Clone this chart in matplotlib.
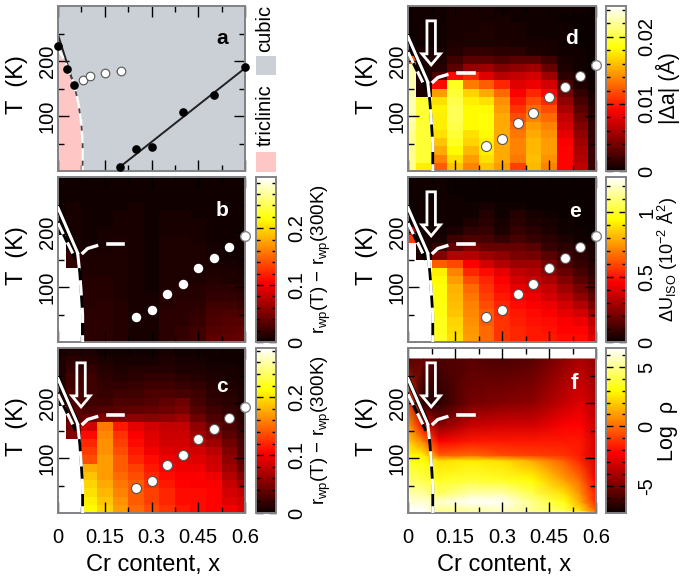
import numpy as np
import matplotlib
matplotlib.use("Agg")
import matplotlib.pyplot as plt

plt.rcParams["font.family"] = ["Liberation Sans", "DejaVu Sans"]
plt.rcParams["mathtext.fontset"] = "custom"
plt.rcParams["mathtext.rm"] = "Liberation Sans"
plt.rcParams["mathtext.default"] = "regular"

W, H = 683, 582

# map cells: columns are x = 0, 0.05 ... 0.6, rows are 15 K wide, listed from the top row down
# numbers are percent of the colour scale
x_centers = [0, 0.05, 0.1, 0.15, 0.2, 0.25, 0.3, 0.35, 0.4, 0.45, 0.5, 0.55, 0.6]
T_edges = [0, 15, 30, 45, 60, 75, 90, 105, 120, 135, 150, 165, 180, 195, 210, 225, 240, 255, 270, 285, 300]

map_b = [
    [1, 1, 1, 1, 1, 1, 1, 1, 1, 1, 1, 1, 1],
    [1, 1, 1, 1, 1, 1, 1, 1, 1, 1, 1, 1, 1],
    [1, 1, 1, 1, 1, 1, 1, 1, 1, 1, 1, 1, 1],
    [1, 2, 1, 1, 1, 2, 1, 1, 1, 1, 1, 1, 1],
    [1, 2, 1, 1, 2, 2, 1, 2, 2, 1, 1, 1, 1],
    [1, 2, 1, 1, 2, 2, 1, 2, 2, 2, 1, 1, 1],
    [1, 2, 1, 2, 2, 2, 1, 2, 2, 2, 1, 1, 1],
    [100, 2, 1, 2, 3, 2, 1, 3, 3, 2, 1, 1, 1],
    [100, 2, 2, 2, 3, 2, 1, 3, 3, 3, 2, 1, 1],
    [100, 6, 3, 3, 3, 2, 1, 3, 3, 3, 2, 1, 1],
    [100, 6, 3, 3, 3, 2, 1, 3, 3, 3, 2, 2, 1],
    [100, 100, 3, 3, 3, 2, 1, 3, 3, 3, 3, 3, 2],
    [100, 100, 4, 4, 3, 2, 1, 3, 3, 3, 4, 3, 3],
    [100, 100, 4, 4, 3, 2, 1, 3, 4, 4, 5, 5, 4],
    [100, 100, 4, 4, 3, 2, 2, 4, 4, 4, 6, 6, 5],
    [100, 100, 4, 5, 4, 2, 2, 4, 5, 5, 8, 8, 7],
    [100, 100, 5, 5, 4, 2, 2, 5, 5, 6, 9, 10, 9],
    [100, 100, 5, 5, 4, 2, 2, 5, 5, 7, 10, 11, 11],
    [100, 100, 5, 5, 4, 2, 2, 5, 6, 8, 11, 12, 13],
    [100, 100, 5, 5, 4, 2, 2, 5, 6, 8, 12, 13, 14],
]

map_c = [
    [2, 3, 3, 1, 1, 1, 1, 2, 1, 1, 1, 1, 1],
    [3, 5, 4, 3, 2, 2, 2, 3, 2, 2, 1, 1, 1],
    [3, 6, 6, 4, 3, 4, 4, 4, 3, 3, 2, 2, 1],
    [4, 8, 8, 5, 4, 5, 6, 6, 5, 4, 3, 2, 2],
    [4, 8, 8, 6, 6, 7, 8, 8, 7, 6, 4, 3, 2],
    [4, 10, 8, 7, 8, 8, 10, 10, 9, 8, 5, 4, 3],
    [4, 10, 8, 8, 10, 10, 11, 13, 15, 9, 6, 5, 3],
    [100, 12, 10, 11, 12, 13, 14, 15, 17, 11, 8, 6, 4],
    [100, 12, 14, 18, 19, 20, 19, 20, 22, 15, 10, 8, 5],
    [100, 16, 30, 55, 40, 33, 30, 28, 28, 20, 14, 10, 6],
    [100, 18, 38, 57, 44, 36, 32, 29, 29, 23, 18, 12, 8],
    [100, 100, 42, 58, 46, 38, 33, 30, 30, 26, 22, 15, 9],
    [100, 100, 45, 58, 48, 40, 35, 32, 31, 30, 26, 18, 10],
    [100, 100, 48, 60, 50, 42, 38, 34, 32, 32, 29, 20, 12],
    [100, 100, 62, 60, 50, 46, 40, 36, 34, 34, 30, 22, 14],
    [100, 100, 66, 60, 52, 48, 42, 38, 36, 36, 34, 25, 18],
    [100, 100, 68, 62, 54, 50, 44, 40, 37, 36, 36, 28, 22],
    [100, 100, 70, 64, 56, 50, 46, 42, 38, 38, 37, 30, 27],
    [100, 100, 72, 66, 58, 50, 46, 42, 38, 38, 37, 32, 30],
    [100, 100, 74, 68, 60, 52, 48, 44, 40, 38, 37, 35, 32],
]

map_d = [
    [1, 1, 1, 2, 2, 2, 1, 1, 1, 1, 1, 1, 0],
    [1, 1, 1, 2, 2, 2, 2, 1, 1, 1, 0, 0, 0],
    [1, 1, 1, 2, 2, 3, 2, 2, 1, 1, 1, 0, 0],
    [1, 1, 1, 2, 3, 3, 2, 2, 1, 1, 1, 0, 0],
    [1, 1, 1, 3, 3, 3, 3, 2, 2, 2, 1, 0, 0],
    [2, 3, 2, 4, 6, 6, 5, 5, 3, 2, 1, 1, 0],
    [50, 3, 3, 8, 12, 12, 10, 12, 12, 8, 2, 1, 0],
    [92, 3, 4, 12, 20, 22, 18, 20, 22, 14, 3, 1, 0],
    [92, 3, 10, 38, 42, 32, 26, 28, 30, 22, 5, 2, 0],
    [92, 3, 38, 78, 55, 50, 42, 32, 34, 30, 10, 3, 1],
    [92, 3, 60, 80, 68, 62, 52, 36, 42, 37, 16, 6, 2],
    [92, 80, 70, 82, 72, 70, 58, 40, 48, 42, 20, 9, 3],
    [92, 80, 73, 83, 74, 74, 60, 44, 52, 48, 24, 12, 4],
    [92, 80, 72, 83, 74, 75, 62, 48, 56, 52, 28, 15, 5],
    [90, 80, 72, 82, 74, 75, 62, 52, 60, 56, 30, 18, 6],
    [88, 80, 70, 80, 70, 74, 62, 54, 62, 58, 33, 20, 6],
    [88, 80, 66, 78, 68, 72, 62, 56, 64, 60, 36, 22, 7],
    [88, 80, 62, 74, 64, 72, 62, 56, 64, 60, 37, 24, 7],
    [88, 80, 56, 70, 60, 70, 62, 54, 65, 58, 37, 25, 7],
    [88, 72, 50, 66, 56, 66, 60, 46, 64, 56, 37, 27, 7],
]

map_e = [
    [1, 1, 1, 0, 0, 0, 0, 0, 0, 0, 0, 0, 0],
    [1, 1, 1, 0, 0, 0, 0, 0, 0, 0, 0, 0, 0],
    [1, 1, 1, 1, 0, 0, 0, 0, 0, 0, 0, 0, 0],
    [1, 1, 1, 1, 1, 2, 1, 1, 0, 0, 0, 0, 0],
    [1, 1, 1, 1, 1, 4, 1, 4, 2, 1, 0, 0, 0],
    [1, 1, 1, 1, 3, 5, 2, 5, 3, 2, 1, 0, 0],
    [30, 1, 1, 3, 6, 7, 3, 7, 5, 3, 1, 1, 0],
    [45, 2, 2, 8, 10, 9, 7, 9, 7, 5, 3, 1, 1],
    [100, 3, 6, 14, 17, 14, 14, 14, 12, 7, 5, 3, 2],
    [100, 3, 18, 25, 25, 22, 20, 17, 16, 12, 8, 5, 3],
    [100, 100, 50, 47, 36, 30, 25, 22, 22, 16, 10, 7, 4],
    [100, 100, 72, 56, 42, 38, 33, 27, 25, 20, 14, 9, 5],
    [100, 100, 74, 60, 48, 42, 36, 30, 28, 24, 18, 12, 7],
    [100, 100, 75, 63, 52, 44, 38, 33, 31, 28, 22, 16, 10],
    [100, 100, 75, 64, 54, 46, 40, 36, 34, 30, 26, 20, 13],
    [100, 100, 76, 65, 56, 48, 42, 38, 36, 34, 30, 25, 17],
    [100, 100, 76, 66, 57, 50, 43, 40, 38, 36, 33, 30, 22],
    [100, 100, 77, 68, 58, 50, 44, 41, 39, 38, 36, 34, 27],
    [100, 100, 77, 69, 59, 52, 44, 42, 40, 39, 37, 37, 30],
    [100, 100, 78, 70, 60, 52, 44, 42, 40, 40, 38, 38, 32],
]

# panel f is a smooth map on a coarse grid, rows listed from 280 K down
x_f = [0, 0.05, 0.1, 0.2, 0.3, 0.4, 0.5, 0.55, 0.6]
T_f = [0, 5, 20, 35, 60, 95, 105, 130, 160, 200, 280]
map_f = [
    [12, 14, 10, 12, 10, 12, 20, 24, 20],
    [45, 3, 5, 16, 18, 20, 28, 32, 25],
    [60, 35, 18, 28, 30, 30, 36, 37, 28],
    [68, 55, 36, 40, 40, 40, 40, 40, 30],
    [75, 72, 50, 52, 48, 46, 44, 40, 30],
    [78, 75, 70, 72, 70, 62, 50, 42, 30],
    [85, 82, 78, 80, 78, 74, 60, 52, 35],
    [92, 90, 84, 92, 92, 82, 70, 58, 40],
    [96, 95, 95, 100, 99, 88, 76, 62, 42],
    [100, 100, 88, 90, 94, 88, 82, 70, 50],
    [100, 100, 92, 92, 94, 92, 90, 86, 60],
]

# points
a_black_x = [0, 0.03, 0.05]
a_black_T = [227, 185, 157]
a_tc_x = [0.2, 0.25, 0.3, 0.4, 0.5, 0.6]
a_tc_T = [8, 40, 43, 107, 138, 190]
a_fit_x = [0.2, 0.6]
a_fit_T = [8, 187]
a_open_x = [0.081, 0.102, 0.152, 0.203]
a_open_T = [165, 173, 179, 182]
a_line_x = [0, 0.05]
a_line_T = [248, 158]

tc_x = [0.25, 0.3, 0.35, 0.4, 0.45, 0.5, 0.55, 0.6]
tc_T = [46, 59, 87, 105, 135, 153, 173, 193]

# phase boundaries
upper_x = [0, 0.063]
upper_T = [244, 162]
lower_x = [0, 0.055]
lower_T = [216, 152]
edge_x = [0.063, 0.07, 0.075, 0.079, 0.079]
edge_T = [162, 125, 85, 50, 0]
pink_x = [0, 0.025, 0.05, 0.065, 0.075, 0.079, 0.079]
pink_T = [225, 195, 160, 125, 85, 50, 0]
curve_x = [0.08, 0.095, 0.124]
curve_T = [162, 170, 175]
dash_x = [0.16, 0.21]
dash_T = [179, 179]

GRAY = "#808285"
CUBIC = "#CBCFD6"
PINK = "#FFC6C6"


def rect(x0, y0, x1, y1):
    # pixel box to figure fractions
    return [x0 / W, 1 - y1 / H, (x1 - x0) / W, (y1 - y0) / H]


def style_axes(ax, top_col="white", bottom_col="black", right_col="white", left_col="black"):
    ax.set_xlim(0, 0.6)
    ax.set_ylim(0, 300)
    ax.set_xticks([0, 0.15, 0.3, 0.45, 0.6])
    ax.set_xticks([0.075, 0.225, 0.375, 0.525], minor=True)
    ax.set_yticks([100, 200])
    ax.set_yticks([50, 150, 250], minor=True)
    ax.tick_params(which="major", direction="in", top=True, right=True, length=8, width=1)
    ax.tick_params(which="minor", direction="in", top=True, right=True, length=4, width=1)
    for axis_ticks in (ax.xaxis.get_major_ticks(), ax.xaxis.get_minor_ticks()):
        for t in axis_ticks:
            t.tick1line.set_color(bottom_col)
            t.tick2line.set_color(top_col)
    for axis_ticks in (ax.yaxis.get_major_ticks(), ax.yaxis.get_minor_ticks()):
        for t in axis_ticks:
            t.tick1line.set_color(left_col)
            t.tick2line.set_color(right_col)
    for s in ax.spines.values():
        s.set_color(GRAY)
        s.set_linewidth(1.4)
    ax.set_xticklabels([])
    for lab in ax.get_yticklabels():
        lab.set_rotation(90)
        lab.set_va("center")
        lab.set_fontsize(14.5)
    ax.tick_params(axis="y", which="major", pad=1)


def draw_lines(ax):
    ax.plot(upper_x, upper_T, color="black", lw=3.4, zorder=3)
    ax.plot(upper_x, upper_T, color="white", lw=2.2, zorder=4)
    ax.plot(lower_x, lower_T, color="black", lw=2.2, zorder=3)
    ax.plot(lower_x, lower_T, color="white", lw=2.2, dashes=(4, 3), zorder=4)
    ax.plot(edge_x, edge_T, color="black", lw=2, zorder=3)
    ax.plot(edge_x, edge_T, color="white", lw=2.2, dashes=(5, 4), zorder=4)
    ax.plot(curve_x, curve_T, color="white", lw=2.4, zorder=4)
    ax.plot(dash_x, dash_T, color="white", lw=2.6, zorder=4)


def draw_arrow(ax):
    ax.arrow(0.074, 273, 0, -80, width=0.027, head_width=0.059, head_length=20,
             length_includes_head=True, fc="none", ec="white", lw=2, zorder=5)


def add_cbar(mesh, box, ticks, labels, minor, label, lab_x, lab_size=15.5):
    cax = fig.add_axes(rect(*box))
    cb = fig.colorbar(mesh, cax=cax)
    cb.set_ticks(ticks)
    cb.set_ticklabels(labels)
    cb.ax.set_yticks(minor, minor=True)
    cb.ax.tick_params(which="major", direction="in", left=True, right=True, length=5, width=1, pad=8)
    cb.ax.tick_params(which="minor", direction="in", left=True, right=True, length=3, width=1)
    cb.outline.set_edgecolor(GRAY)
    cb.outline.set_linewidth(1.4)
    for t in cb.ax.get_yticklabels():
        t.set_rotation(90)
        t.set_va("center")
        t.set_fontsize(14.5)
    fig.text(lab_x / W, 1 - (box[1] + box[3]) / 2 / H, label, rotation=90, ha="center", va="center", fontsize=lab_size)


fig = plt.figure(figsize=(W / 100, H / 100), dpi=100)

left = (58, 245)
right = (408, 596)
rows = [(6, 171), (177, 342), (348, 513)]

# panel a: phase diagram
ax_a = fig.add_axes(rect(left[0], rows[0][0], left[1], rows[0][1]))
ax_a.set_facecolor(CUBIC)
ax_a.fill_betweenx(pink_T, 0, pink_x, color=PINK, lw=0)
ax_a.plot(a_line_x, a_line_T, color="#222222", lw=1.4)
ax_a.plot(pink_x[1:], pink_T[1:], color="#444444", lw=1.2)
ax_a.plot(pink_x[:], pink_T[:], color="white", lw=1.8, dashes=(5, 2))
ax_a.plot(a_fit_x, a_fit_T, color="#222222", lw=1.4)
ax_a.plot(a_black_x + a_tc_x, a_black_T + a_tc_T, "o", color="black", ms=5.2, ls="none", clip_on=False, zorder=5)
ax_a.plot([0.14, 0.15], [179, 179], color="#444444", lw=1)
ax_a.plot([0.19, 0.2], [182, 182], color="#444444", lw=1)
ax_a.plot(a_open_x, a_open_T, "o", mfc="white", mec="#555555", mew=0.8, ms=6.2, ls="none", zorder=5)
style_axes(ax_a, top_col="#444444", bottom_col="#444444", right_col="#444444", left_col="#444444")
ax_a.text(0.526, 240, "a", fontsize=15, fontweight="bold", ha="center", va="center")

# legend swatches next to panel a
for box, col in (((256, 56, 276, 75), CUBIC), ((256, 152, 276, 172), PINK)):
    sw = fig.add_axes(rect(*box))
    sw.set_facecolor(col)
    sw.set_xticks([])
    sw.set_yticks([])
    for s in sw.spines.values():
        s.set_visible(False)
fig.text(265 / W, 1 - 28 / H, "cubic", rotation=90, ha="center", va="center", fontsize=14.5)
fig.text(265 / W, 1 - 115 / H, "triclinic", rotation=90, ha="center", va="center", fontsize=14.5)

x_edges = [0, 0.025, 0.075, 0.125, 0.175, 0.225, 0.275, 0.325, 0.375, 0.425, 0.475, 0.525, 0.575, 0.6]

panels = [
    (map_b, 0.29, left, rows[1], "b", 239, 0.527, False),
    (map_c, 0.285, left, rows[2], "c", 230, 0.527, True),
    (map_d, 0.0246, right, rows[0], "d", 240, 0.521, True),
    (map_e, 1.27, right, rows[1], "e", 237, 0.532, True),
]
meshes = {}
axes = {}
for grid, vmax, cols, row, name, lab_T, lab_x, arrow in panels:
    ax = fig.add_axes(rect(cols[0], row[0], cols[1], row[1]))
    vals = np.array(grid[::-1], dtype=float) / 100 * vmax
    m = ax.pcolormesh(x_edges, T_edges, vals, cmap="hot", vmin=0, vmax=vmax, shading="flat")
    draw_lines(ax)
    if arrow:
        draw_arrow(ax)
    edge = "#555555" if name != "b" else "none"
    ax.plot(tc_x[:-1], tc_T[:-1], "o", mfc="white", mec=edge, mew=0.8, ms=7.2 if name != "b" else 6.8, ls="none", zorder=6)
    ax.plot(tc_x[-1:], tc_T[-1:], "o", mfc="white", mec=GRAY, mew=1, ms=7, ls="none", clip_on=False, zorder=6)
    style_axes(ax, bottom_col="white" if name == "b" else "black")
    ax.text(lab_x, lab_T, name, color="white", fontsize=15, fontweight="bold", ha="center", va="center", zorder=6)
    meshes[name] = m
    axes[name] = ax

# panel f: resistivity
ax_f = fig.add_axes(rect(right[0], rows[2][0], right[1], rows[2][1]))
ax_f.set_facecolor("white")
vals_f = -7.3 + np.array(map_f[::-1], dtype=float) / 100 * 13.9
mesh_f = ax_f.pcolormesh(x_f, T_f, vals_f, cmap="hot", vmin=-7.3, vmax=6.6, shading="gouraud")
draw_lines(ax_f)
draw_arrow(ax_f)
style_axes(ax_f, top_col="black", right_col="black")
ax_f.text(0.532, 236, "f", color="white", fontsize=16, fontweight="bold", ha="center", va="center", zorder=6)

# shared axis text
for ax, x_px in ((ax_a, 17), (axes["b"], 17), (axes["c"], 17), (axes["d"], 367), (axes["e"], 367), (ax_f, 367)):
    box = ax.get_position()
    fig.text(x_px / W, box.y0 + box.height / 2 + 0.006, "T  (K)", rotation=90, ha="center", va="center", fontsize=17)

for ax in (axes["c"], ax_f):
    ax.set_xticklabels(["0", "0.15", "0.3", "0.45", "0.6"], fontsize=14.5)
    ax.tick_params(axis="x", which="major", pad=11)
    box = ax.get_position()
    fig.text(box.x0 + box.width / 2 + 0.003, 1 - 565 / H, "Cr content, x", ha="center", va="center", fontsize=17)

# colour bars
rwp_label = r"r$_{wp}$(T) $-$ r$_{wp}$(300K)"
add_cbar(meshes["b"], (256, 177, 276, 342), [0, 0.1, 0.2], ["0", "0.1", "0.2"],
         [0.02, 0.04, 0.06, 0.08, 0.12, 0.14, 0.16, 0.18, 0.22, 0.24, 0.26, 0.28], rwp_label, 321, 13.5)
add_cbar(meshes["c"], (256, 348, 276, 513), [0, 0.1, 0.2], ["0", "0.1", "0.2"],
         [0.02, 0.04, 0.06, 0.08, 0.12, 0.14, 0.16, 0.18, 0.22, 0.24, 0.26, 0.28], rwp_label, 321, 13.5)
add_cbar(meshes["d"], (606, 6, 626, 171), [0, 0.01, 0.02], ["0", "0.01", "0.02"],
         [0.002, 0.004, 0.006, 0.008, 0.012, 0.014, 0.016, 0.018, 0.022, 0.024], "|Δa| (Å)", 668)
add_cbar(meshes["e"], (606, 177, 626, 342), [0, 0.5, 1], ["0", "0.5", "1"],
         [0.1, 0.2, 0.3, 0.4, 0.6, 0.7, 0.8, 0.9, 1.1, 1.2], r"ΔU$_{ISO}$ (10$^{-2}$ Å$^{2}$)", 668, 13)
add_cbar(mesh_f, (606, 348, 626, 513), [-5, 0, 5], ["-5", "0", "5"],
         [-7, -6, -4, -3, -2, -1, 1, 2, 3, 4, 6], "Log  ρ", 668)

fig.savefig("out.png", dpi=100)
